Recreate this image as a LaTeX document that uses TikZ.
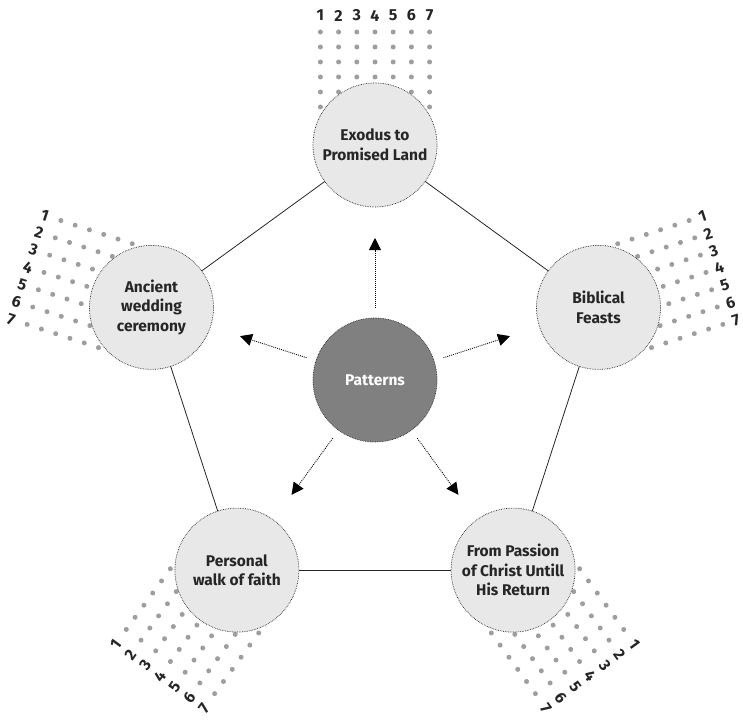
\documentclass[tikz,border=0pt]{standalone}
\usepackage{fontspec}
\setmainfont{Fira Sans}
\usetikzlibrary{arrows.meta,calc}
\definecolor{dotgray}{RGB}{158,158,158}
\definecolor{cfill}{RGB}{232,232,232}
\definecolor{pfill}{RGB}{128,128,128}
\definecolor{txt}{RGB}{38,38,38}
\begin{document}
\begin{tikzpicture}[x=1pt,y=-1pt,
  outer/.style={circle, draw=black!85, densely dotted, line width=0.7pt, fill=cfill,
    minimum size=124pt, inner sep=0pt, outer sep=0pt, align=center,
    font=\bfseries\fontsize{15.5}{19.5}\selectfont, text=txt},
  patnode/.style={circle, draw=black!85, densely dotted, line width=0.7pt, fill=pfill,
    minimum size=124pt, inner sep=0pt, outer sep=0pt, align=center,
    font=\bfseries\fontsize{15.5}{19.5}\selectfont, text=white},
  edge/.style={draw=black!85, line width=0.8pt},
  arr/.style={draw=black, line width=0.9pt, dash pattern=on 0.9pt off 1.1pt,
    -{Triangle[length=12pt,width=12pt]}, shorten <=10pt, shorten >=31pt},
  digit/.style={font=\bfseries\fontsize{16}{17}\selectfont, text=black!85, inner sep=0pt}
]
\path[use as bounding box] (0,0) rectangle (743,719);
% dot grids
\foreach \ang/\mir/\drot/\rad in {0/1/0/364.5, -72/1/18/362, -144/1/-54/366, -72/-1/-18/365, -144/-1/54/366} {
  \begin{scope}[shift={(375,380)}, xscale=\mir, rotate=\ang]
    \foreach \k in {-3,...,3} {
      \foreach \j in {0,...,5} {
        \fill[dotgray] (18.2*\k, -348+15*\j) circle (2.5);
      }
      \pgfmathtruncatemacro\num{\k+4}
      \node[digit, rotate=\drot] at (18.2*\k,-\rad) {\num};
    }
  \end{scope}
}
% circles
\node[outer] (top) at (375,145) {Exodus to\\Promised Land};
\node[outer] (rgt) at (598.5,307.4) {Biblical\\Feasts};
\node[outer] (brt) at (513.1,570.1) {From Passion\\of Christ Untill\\His Return};
\node[outer] (blt) at (236.9,570.1) {Personal\\walk of faith};
\node[outer] (lft) at (151.5,307.4) {Ancient\\wedding\\ceremony};
\node[patnode] (pat) at (375,380) {Patterns};
% pentagon edges
\draw[edge] (top) -- (rgt);
\draw[edge] (rgt) -- (brt);
\draw[edge] (brt) -- (blt);
\draw[edge] (blt) -- (lft);
\draw[edge] (lft) -- (top);
% arrows
\draw[arr] (pat) -- (top);
\draw[arr] (pat) -- (rgt);
\draw[arr] (pat) -- (brt);
\draw[arr] (pat) -- (blt);
\draw[arr] (pat) -- (lft);
\end{tikzpicture}
\end{document}
